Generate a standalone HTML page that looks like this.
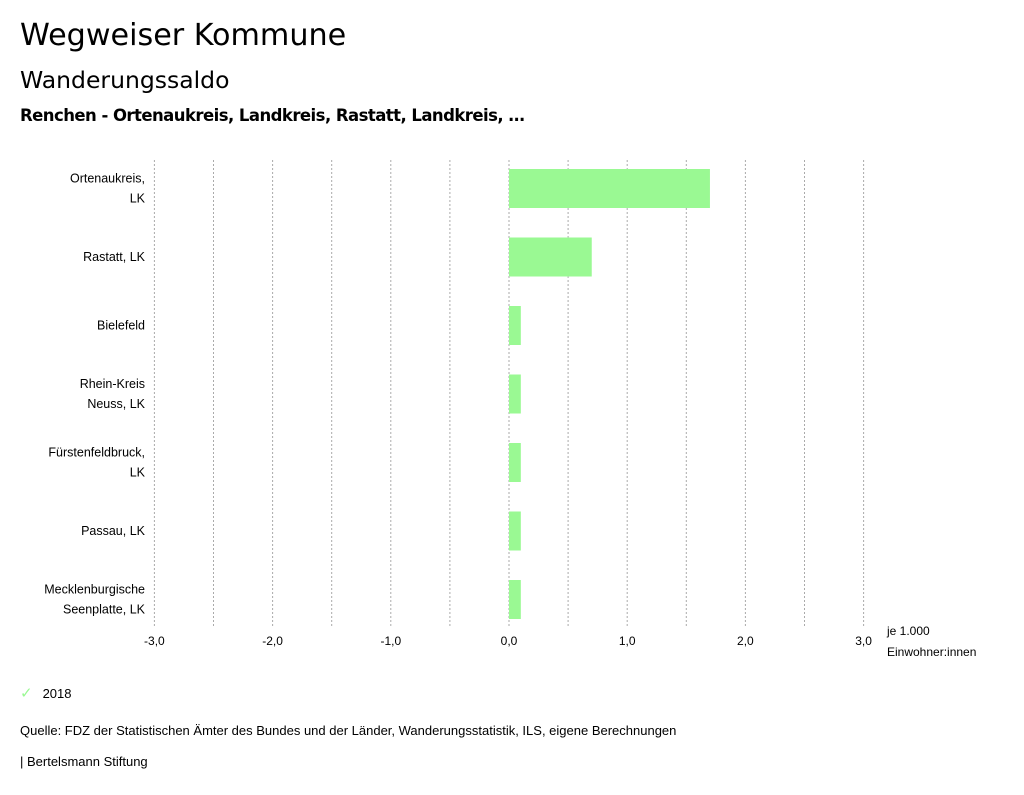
<!DOCTYPE html>
<html><head><meta charset="utf-8"><style>
body{margin:0;width:1024px;height:795px;background:#fff;font-family:"Liberation Sans","DejaVu Sans",sans-serif;color:#000;position:relative;overflow:hidden}
.t{position:absolute;white-space:nowrap}
</style></head><body>
<div class="t" style="left:20px;top:18px;font-size:30.2px;font-family:'DejaVu Sans',sans-serif">Wegweiser Kommune</div>
<div class="t" style="left:20px;top:66px;font-size:23.5px;font-family:'DejaVu Sans',sans-serif">Wanderungssaldo</div>
<div class="t" style="left:20px;top:106px;font-size:16.5px;font-weight:bold;font-family:'DejaVu Sans',sans-serif;letter-spacing:-0.55px">Renchen - Ortenaukreis, Landkreis, Rastatt, Landkreis, …</div>
<svg id="chart" width="1024" height="680" style="position:absolute;left:0;top:0"></svg>
<div class="t" style="left:20px;top:684px;font-size:13px"><span style="color:#9af993;margin-right:10px;font-size:15px">✓</span>2018</div>
<div class="t" style="left:20px;top:723px;font-size:13px">Quelle: FDZ der Statistischen Ämter des Bundes und der Länder, Wanderungsstatistik, ILS, eigene Berechnungen</div>
<div class="t" style="left:20px;top:754px;font-size:13px">| Bertelsmann Stiftung</div>
<script>
const categories=[["Ortenaukreis,","LK"],["Rastatt, LK"],["Bielefeld"],["Rhein-Kreis","Neuss, LK"],["Fürstenfeldbruck,","LK"],["Passau, LK"],["Mecklenburgische","Seenplatte, LK"]];
const values2018=[1.7,0.7,0.1,0.1,0.1,0.1,0.1];
const tickValues=[-3,-2,-1,0,1,2,3];
const tickLabels=["-3,0","-2,0","-1,0","0,0","1,0","2,0","3,0"];
const NS="http://www.w3.org/2000/svg";
const svg=document.getElementById('chart');
const x=v=>509+v*118.2;
const top0=162,band=68.5;
const y=i=>top0+i*band;
function mk(tag,attrs){const e=document.createElementNS(NS,tag);for(const k in attrs)e.setAttribute(k,attrs[k]);svg.appendChild(e);return e;}
for(let g=-3;g<=3.001;g+=0.5){
 const l=mk('line',{x1:x(g),x2:x(g),y1:160,y2:628,stroke:'#aaa','stroke-dasharray':'2,2'});
 
 
}
tickValues.forEach((v,i)=>{
 const t=mk('text',{x:x(v),y:645,'text-anchor':'middle','font-size':12,'font-family':'Liberation Sans, sans-serif'});
 t.textContent=tickLabels[i];
 
 
});
const u=mk('text',{x:887,y:635,'font-size':12,'font-family':'Liberation Sans, sans-serif'});u.textContent='je 1.000';


const u2=mk('text',{x:887,y:656,'font-size':12,'font-family':'Liberation Sans, sans-serif'});u2.textContent='Einwohner:innen';


categories.forEach((c,i)=>{
 const v=values2018[i];
 const r=mk('rect',{x:Math.min(x(0),x(v)),y:y(i)+7,width:Math.abs(x(v)-x(0)),height:39,fill:'#9af993'});
 
 
 const cy=y(i)+26.5;
 c.forEach((line,j)=>{
  const t=mk('text',{x:145,y:cy+4+(c.length===2?(j===0?-10:10):0),'text-anchor':'end','font-size':12.5,'font-family':'Liberation Sans, sans-serif'});
  t.textContent=line;
  
  
 });
});
</script>
</body></html>
